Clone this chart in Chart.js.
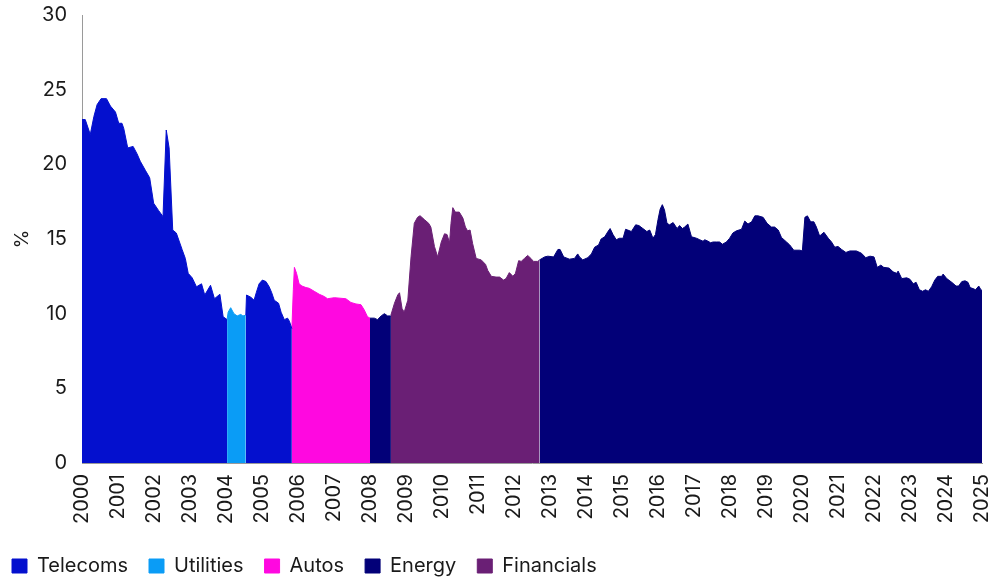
<!DOCTYPE html>
<html>
<head>
<meta charset="utf-8">
<script src="https://cdn.jsdelivr.net/npm/chart.js@4.4.1/dist/chart.umd.min.js"></script>
<style>
  html, body { margin: 0; padding: 0; background: #fff; }
  #wrap { width: 1000px; height: 582px; }
</style>
</head>
<body>
<div id="wrap"><canvas id="chart"></canvas></div>
<script>
// values (x = decimal year, y = %)
const telecoms1Dates = [2000.00, 2000.09, 2000.23, 2000.33, 2000.42, 2000.53, 2000.68, 2000.79, 2000.93, 2001.02, 2001.11, 2001.16, 2001.27, 2001.42, 2001.53, 2001.62, 2001.76, 2001.88, 2001.99, 2002.13, 2002.25, 2002.34, 2002.42, 2002.52, 2002.62, 2002.78, 2002.87, 2002.95, 2003.06, 2003.18, 2003.32, 2003.41, 2003.57, 2003.68, 2003.83, 2003.92, 2004.03];
const telecoms1Values = [23.0, 23.0, 22.0, 23.2, 24.0, 24.4, 24.4, 23.9, 23.5, 22.75, 22.75, 22.4, 21.1, 21.2, 20.7, 20.2, 19.6, 19.1, 17.4, 16.9, 16.5, 22.3, 21.1, 15.6, 15.4, 14.3, 13.7, 12.7, 12.4, 11.8, 12.0, 11.25, 11.9, 11.0, 11.3, 9.8, 9.6];

const utilitiesDates = [2004.03, 2004.06, 2004.13, 2004.22, 2004.31, 2004.41, 2004.47, 2004.55];
const utilitiesValues = [9.6, 10.1, 10.4, 10.0, 9.85, 9.95, 9.85, 9.9];

const telecoms2Dates = [2004.55, 2004.57, 2004.69, 2004.78, 2004.84, 2004.92, 2005.01, 2005.11, 2005.20, 2005.27, 2005.34, 2005.46, 2005.53, 2005.62, 2005.71, 2005.76, 2005.83];
const telecoms2Values = [9.9, 11.25, 11.1, 10.9, 11.4, 12.0, 12.25, 12.15, 11.8, 11.4, 10.9, 10.7, 10.1, 9.6, 9.7, 9.5, 9.0];

const autosDates = [2005.83, 2005.87, 2005.90, 2005.96, 2006.03, 2006.11, 2006.22, 2006.31, 2006.45, 2006.59, 2006.73, 2006.82, 2007.01, 2007.33, 2007.47, 2007.61, 2007.75, 2007.84, 2007.93, 2008.00];
const autosValues = [9.0, 11.6, 13.1, 12.7, 12.0, 11.85, 11.75, 11.7, 11.5, 11.3, 11.15, 11.0, 11.07, 11.0, 10.75, 10.65, 10.6, 10.25, 9.8, 9.7];

const energy1Dates = [2008.00, 2008.12, 2008.21, 2008.31, 2008.40, 2008.49, 2008.58];
const energy1Values = [9.7, 9.7, 9.6, 9.85, 10.0, 9.85, 9.85];

const financialsDates = [2008.58, 2008.68, 2008.77, 2008.82, 2008.89, 2008.95, 2009.05, 2009.14, 2009.23, 2009.32, 2009.39, 2009.51, 2009.63, 2009.69, 2009.79, 2009.88, 2009.98, 2010.07, 2010.14, 2010.21, 2010.25, 2010.30, 2010.37, 2010.48, 2010.58, 2010.65, 2010.71, 2010.78, 2010.85, 2010.95, 2011.09, 2011.21, 2011.27, 2011.37, 2011.50, 2011.60, 2011.71, 2011.78, 2011.87, 2011.97, 2012.04, 2012.13, 2012.20, 2012.29, 2012.38, 2012.47, 2012.54, 2012.66, 2012.71];
const financialsValues = [9.9, 10.7, 11.25, 11.4, 10.35, 10.1, 10.9, 13.8, 16.05, 16.45, 16.56, 16.3, 16.05, 15.8, 14.5, 13.8, 14.8, 15.35, 15.3, 14.75, 16.05, 17.1, 16.8, 16.8, 16.4, 15.8, 15.55, 15.6, 14.7, 13.7, 13.6, 13.3, 12.9, 12.5, 12.45, 12.45, 12.25, 12.35, 12.75, 12.5, 12.7, 13.55, 13.5, 13.7, 13.9, 13.7, 13.5, 13.5, 13.6];

const energy2Dates = [2012.71, 2012.85, 2012.94, 2013.10, 2013.22, 2013.28, 2013.38, 2013.54, 2013.68, 2013.77, 2013.82, 2013.91, 2014.05, 2014.15, 2014.24, 2014.35, 2014.42, 2014.52, 2014.61, 2014.67, 2014.75, 2014.84, 2014.93, 2015.03, 2015.10, 2015.16, 2015.26, 2015.38, 2015.47, 2015.58, 2015.69, 2015.77, 2015.86, 2015.93, 2016.00, 2016.06, 2016.12, 2016.18, 2016.25, 2016.32, 2016.42, 2016.53, 2016.60, 2016.68, 2016.74, 2016.83, 2016.93, 2017.07, 2017.16, 2017.25, 2017.30, 2017.39, 2017.46, 2017.53, 2017.62, 2017.71, 2017.79, 2017.90, 2017.99, 2018.08, 2018.18, 2018.32, 2018.41, 2018.50, 2018.60, 2018.69, 2018.78, 2018.92, 2019.03, 2019.15, 2019.24, 2019.34, 2019.43, 2019.57, 2019.66, 2019.77, 2019.94, 2020.01, 2020.08, 2020.15, 2020.24, 2020.33, 2020.40, 2020.49, 2020.61, 2020.73, 2020.82, 2020.91, 2021.00, 2021.10, 2021.22, 2021.33, 2021.51, 2021.65, 2021.77, 2021.89, 2022.00, 2022.09, 2022.19, 2022.27, 2022.42, 2022.53, 2022.63, 2022.67, 2022.77, 2022.91, 2023.00, 2023.09, 2023.17, 2023.26, 2023.35, 2023.43, 2023.51, 2023.60, 2023.69, 2023.77, 2023.88, 2023.92, 2024.02, 2024.16, 2024.28, 2024.35, 2024.44, 2024.53, 2024.61, 2024.67, 2024.78, 2024.82, 2024.91, 2024.97, 2025.00];
const energy2Values = [13.6, 13.8, 13.85, 13.8, 14.3, 14.3, 13.8, 13.65, 13.7, 14.0, 13.8, 13.6, 13.75, 14.0, 14.45, 14.6, 15.0, 15.15, 15.5, 15.7, 15.3, 14.95, 15.05, 15.05, 15.65, 15.6, 15.5, 15.95, 15.9, 15.7, 15.5, 15.6, 15.05, 15.3, 16.3, 17.0, 17.3, 16.95, 16.05, 15.95, 16.1, 15.7, 15.9, 15.7, 15.8, 16.0, 15.15, 15.05, 14.95, 14.85, 14.95, 14.85, 14.75, 14.8, 14.8, 14.8, 14.65, 14.8, 15.05, 15.4, 15.55, 15.65, 16.2, 16.0, 16.15, 16.55, 16.55, 16.45, 16.05, 15.8, 15.8, 15.6, 15.1, 14.8, 14.6, 14.25, 14.25, 14.2, 16.45, 16.55, 16.15, 16.15, 15.8, 15.2, 15.45, 15.05, 14.8, 14.45, 14.5, 14.3, 14.1, 14.2, 14.2, 14.05, 13.75, 13.85, 13.8, 13.1, 13.25, 13.1, 13.05, 12.8, 12.7, 12.85, 12.35, 12.4, 12.3, 12.0, 12.1, 11.6, 11.5, 11.6, 11.5, 11.8, 12.25, 12.5, 12.5, 12.65, 12.35, 12.1, 11.85, 11.85, 12.15, 12.2, 12.1, 11.75, 11.65, 11.6, 11.85, 11.6, 11.55];

const seriesNames = ['Telecoms', 'Utilities', 'Autos', 'Energy', 'Financials'];
const seriesColors = ['#0410CE', '#0A9CF6', '#FF08E0', '#020078', '#6A1F75'];

const yTicks = [0, 5, 10, 15, 20, 25, 30];
const firstYear = 2000, lastYear = 2025;

function pts(dates, values) {
  return dates.map((d, i) => ({ x: d, y: values[i] }));
}
const gap = x => ({ x: x, y: null });

const runs = [
  pts(telecoms1Dates, telecoms1Values).concat([gap(2004.3)], pts(telecoms2Dates, telecoms2Values)),
  pts(utilitiesDates, utilitiesValues),
  pts(autosDates, autosValues),
  pts(energy1Dates, energy1Values).concat([gap(2010.5)], pts(energy2Dates, energy2Values)),
  pts(financialsDates, financialsValues)
];

const FONT = 'Inter, "Open Sans", sans-serif';
const TEXT = '#1a1a1a';

new Chart(document.getElementById('chart'), {
  type: 'line',
  data: {
    datasets: seriesNames.map((name, i) => ({
      label: name,
      data: runs[i],
      backgroundColor: seriesColors[i],
      borderColor: seriesColors[i],
      borderWidth: 1,
      pointRadius: 0,
      tension: 0,
      fill: 'origin',
      spanGaps: false
    }))
  },
  options: {
    responsive: true,
    maintainAspectRatio: false,
    animation: false,
    // legend starts at the far left, so the left padding is pulled in and the y axis widened
    layout: { padding: { left: -9, right: 18, top: 15, bottom: -4 } },
    plugins: {
      legend: {
        position: 'bottom',
        align: 'start',
        labels: {
          boxWidth: 15,
          boxHeight: 14,
          padding: 21,
          color: TEXT,
          font: { family: FONT, size: 20 }
        }
      },
      tooltip: { enabled: false }
    },
    scales: {
      x: {
        type: 'linear',
        min: firstYear,
        max: lastYear,
        grid: { display: false, drawTicks: false },
        border: { display: true, color: '#9a9a9a', width: 1 },
        ticks: {
          stepSize: 1,
          autoSkip: false,
          minRotation: 90,
          maxRotation: 90,
          padding: 11,
          color: TEXT,
          font: { family: FONT, size: 20 },
          callback: v => String(v)
        },
        afterFit: s => { s.height = 72; s.paddingLeft = 0; s.paddingRight = 0; }
      },
      y: {
        min: 0,
        max: 30,
        afterBuildTicks: s => { s.ticks = yTicks.map(v => ({ value: v })); },
        grid: { display: false, drawTicks: false },
        border: { display: true, color: '#9a9a9a', width: 1 },
        title: {
          display: true,
          text: '%',
          color: TEXT,
          padding: { top: 20, bottom: 0 },
          font: { family: FONT, size: 19 }
        },
        ticks: {
          padding: 15,
          color: TEXT,
          font: { family: FONT, size: 20 }
        },
        afterFit: s => { s.width = 91; s.paddingTop = 0; s.paddingBottom = 0; }
      }
    }
  }
});
</script>
</body>
</html>
